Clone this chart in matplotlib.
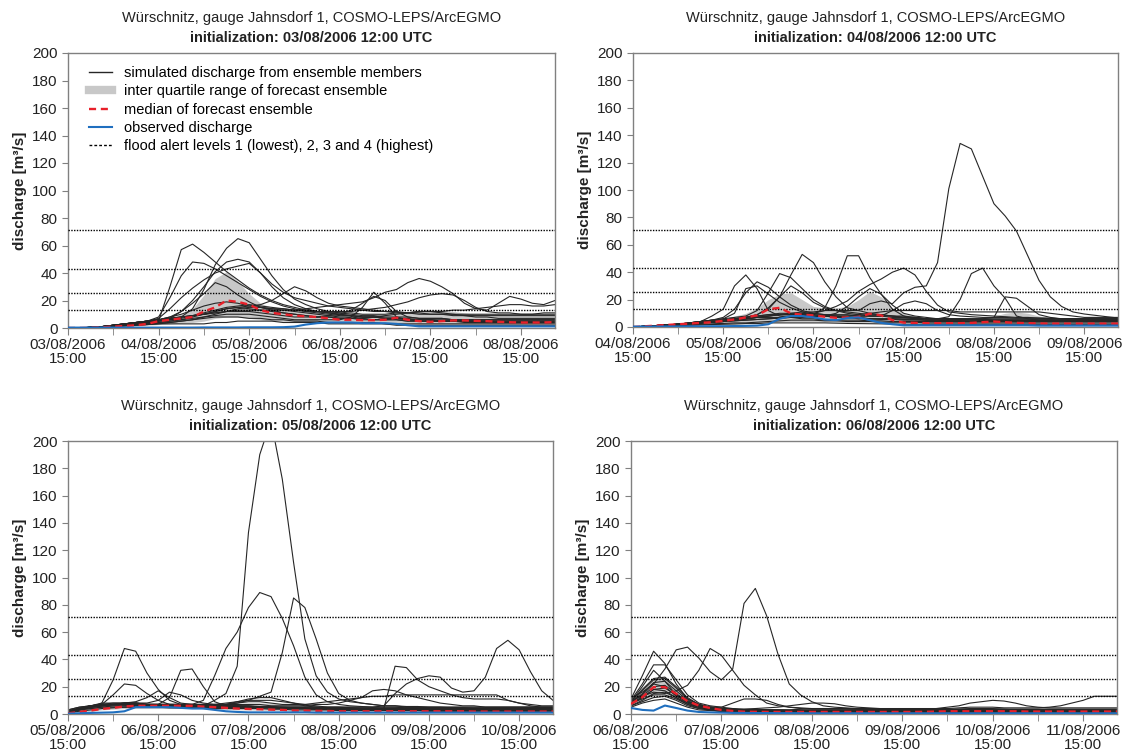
import numpy as np
import matplotlib
matplotlib.use("Agg")
import matplotlib.pyplot as plt
from matplotlib.lines import Line2D

plt.rcParams["font.family"] = ["Liberation Sans", "DejaVu Sans"]

# lead time in hours (3-hourly, 03/08 15:00 = lead 3h)
lead_hours = np.arange(3, 133, 3)

alert_levels = [13.4, 25.8, 43.0, 71.0]
start_days = [3, 4, 5, 6]

# ---------------- init 03/08/2006 ----------------
ens_0308 = [
    [0,0,0.5,1,2,3,3.5,4, 5,30,57,61,55,48,41,35, 29,24,20,17,15,13,12,11, 10,9,8,8,7,7,6,6, 6,5,5,5,5,5,4,4, 4,4,4,4],
    [0,0,0.5,1,2,3,4,5, 8,22,38,48,47,43,38,33, 28,23,19,16,14,12,11,10, 9,9,8,8,7,7,7,6, 6,6,6,5,5,5,5,5, 5,5,5,5],
    [0,0,0.5,1,1.5,2,3,4, 5,6,8,14,28,46,58,65, 62,50,38,28,21,17,14,12, 11,10,9,9,8,8,8,7, 7,7,6,6,6,6,6,6, 6,6,6,6],
    [0,0,0.5,1,1.5,2,3,4, 5,7,12,20,30,41,48,50, 48,40,32,26,22,20,18,16, 15,14,13,12,12,11,11,10, 10,10,9,9,9,9,9,9, 9,9,9,9],
    [0,0,0.5,1,2,3,4,5, 7,14,22,29,35,40,43,45, 47,40,30,22,17,14,12,11, 10,9,8,8,7,7,6,6, 6,5,5,5,5,5,5,5, 5,5,5,5],
    [0,0,0.5,1,2,3,4,5, 6,7,8,9,10,12,14,15, 16,17,20,25,30,27,22,18, 16,15,14,13,12,12,11,11, 10,10,10,10,10,10,10,10, 10,10,11,11],
    [0,0,0.5,1,2,3,4,5, 6,7,8,9,10,11,12,13, 13,13,13,13,13,14,15,16, 17,18,19,22,26,28,33,36, 34,30,25,18,14,13,18,23, 21,18,17,20],
    [0,0,0.5,1,1.5,2,3,3, 4,5,6,7,8,9,10,10, 10,9,8,7,6,6,6,6, 6,8,15,26,18,8,6,5, 5,5,5,5,5,4,4,4, 4,4,4,4],
    [0,0,0.5,1,2,3,4,5, 6,7,8,9,10,11,12,12, 12,11,10,9,8,8,8,9, 10,13,18,23,20,12,8,7, 7,7,6,6,6,6,6,6, 6,6,6,6],
    [0,0,0.5,1,2,3,4,5, 6,8,10,13,16,18,19,18, 16,15,14,14,13,13,12,12, 12,12,13,14,15,17,19,22, 24,25,24,20,15,12,11,11, 10,10,10,10],
    [0,0,0.5,1,1.5,2,3,4, 5,6,7,9,11,13,15,16, 17,16,15,14,13,12,12,11, 11,11,10,10,10,11,11,12, 12,12,13,13,14,15,16,17, 17,16,16,17],
    [0,0,0.5,1,1.5,2,2.5,3, 3.5,4,5,6,7,8,8,8, 7,7,6,6,5,5,5,4, 4,4,4,4,3,3,3,3, 3,3,3,3,3,3,3,3, 3,3,3,3],
    [0,0,0.3,0.6,1,1.5,2,2.5, 3,3,3,3,3,4,4,5, 5,5,5,4,4,4,4,3, 3,3,3,3,3,2,2,2, 2,2,2,2,2,2,2,2, 2,2,2,2],
    [0,0,0.5,1,2,2.5,3,3.5, 4,5,6,8,10,12,14,15, 14,13,12,11,10,9,8,8, 7,7,7,8,9,10,11,12, 12,11,10,9,8,8,7,7, 7,7,7,7],
    [0,0,0.4,0.8,1.2,1.6,2,2.5, 3,4,5,6,8,10,12,14, 15,15,14,13,12,11,10,9, 8,8,7,6,6,6,5,5, 5,5,5,4,4,4,4,4, 4,4,4,4],
    [0,0,0.5,1,2,3,4,5, 6,8,12,18,25,33,30,24, 19,15,13,11,10,9,8,8, 7,7,6,6,6,6,5,5, 5,5,5,5,5,5,5,5, 5,5,5,5],
]
med_0308 = [0,0,0.2,0.5,1,1.5,2,3, 5,6,7,8,12,15,20,19, 17,13,11,10,9,8.5,8,7, 6,6,5.7,5.7,6,7.5,6,5, 4.5,5,5.5,5.5,5.2,5,4.5,4.2, 4,4,4,4.3]
q25_0308 = [0,0,0,0.3,0.6,1,1.5,2, 2.5,3,3.5,4,5,7,8,8, 7,6,5,5,4.5,4,4,3.5, 3.5,3.5,3.5,3.5,3.5,3.5,3.5,3, 3,3,3,3,3,3,3,3, 3,3,3,3]
q75_0308 = [0,0,0.5,1,1.5,2.5,3.5,4.5, 6,8,10,14,24,36,41,34, 25,18,15,13,12,12,11.5,11, 10.5,10,10,10,10.5,11,12,13, 13.5,13,12,11,10,10,10,9.5, 9.5,9.5,9.5,9.5]
obs_0308 = [0.3,0.3,0.3,0.3,0.3,0.3,0.3,0.3, 0.3,0.3,0.3,0.3,0.4,0.4,0.4,0.4, 0.5,0.5,0.5,0.6,1,2.5,3.5,4, 4,4,3.5,3.5,3.5,3,2,1.2, 1.2,1.2,1.2,1.2,1.2,1.2,1.2,1.2, 1.2,1.2,1.2,1.2]

# ---------------- init 04/08/2006 ----------------
ens_0408 = [
    [0,0.5,1,1.5,2,2.5,3,3.5, 4,5,6,7,8,9,10,11, 11,12,12,12,12,17,19,17, 25,29,30,47,101,134,130,110, 90,81,70,52,34,22,15,11, 9.5,8.5,7.5,6.6],
    [0,0.5,1,1.5,2,2.5,3,4, 5,6,7,8,9,10,10,10, 10,9,9,9,8,8,8,8, 8,7,6,6,7.5,20,39,43, 30,21,8,6,5,5,4.5,4.5, 4.5,4.5,4.5,4.5],
    [0,0.5,1,1.5,2,2.5,3,4, 5,6,7,8,9,9,9,9, 8,8,7,7,7,6,6,6, 6,6,6,6,6,6,6,6, 7,22,21,15,9,7,6,6, 5.5,5.5,5.5,5.5],
    [0,0.5,1,1.5,2,2.5,3,4, 5,6,7,9,13,22,38,53, 47,33,22,14,12,10,9,8, 7,7,6,6,6,5.5,5.5,5, 5,5,5,5,5,5,5,5, 5,5,5,5],
    [0,0.5,1,1.5,2,3,4,5, 5,6,6,7,7,7,8,8, 9,14,30,52,52,36,24,13, 8,6,5,5,4.5,4.5,4,4, 4,4,4,4,4,4,4,4, 4,4,4,4],
    [0,0.5,1,1.5,2,3,4,8, 13,30,38,28,12,8,7,6, 6,5,5,5,5,4.5,4.5,4, 4,4,4,4,4,4,4,4, 4,4,4,4,4,4,4,4, 4,4,4,4],
    [0,0.5,1,1.5,2,3,4,5, 7,13,25,33,29,22,16,12, 10,9,8,7,7,6,6,6, 5.5,5.5,5,5,5,5,5,5, 5,5,5,5,5,5,5,5, 5,5,5,5],
    [0,0.5,1,1.5,2,3,4,5, 6,10,28,30,24,18,14,11, 9,8,7,7,6,6,5.5,5.5, 5,5,5,5,4.5,4.5,4.5,4.5, 4.5,4.5,4.5,4.5,4.5,4.5,4.5,4.5, 4.5,4.5,4.5,4.5],
    [0,0.5,1,1.5,2,3,4,5, 6,7,8,12,25,39,36,28, 20,15,12,10,9,8,8,7, 7,6,6,6,5.5,5.5,5.5,5.5, 5,5,5,5,5,5,5,5, 5,5,5,5],
    [0,0.5,1,1.5,2,3,3.5,4, 5,6,7,9,14,22,30,25, 18,14,12,11,10,9,9,8, 7,7,6,6,6,6,6,6, 6,6,6,6,6,6,6,6, 6,6,6,6],
    [0,0.5,1,1.5,2,2.5,3,3.5, 4,5,6,7,8,9,9,10, 10,12,15,19,26,31,35,40, 43,38,26,16,11,10,9,8.5, 8,7.5,7,7,6.5,6.5,6,6, 6,6,6,6],
    [0,0.5,1,1.5,2,2.5,3,3.5, 4,4.5,5,5.5,6,6.5,7,7, 7.5,8,10,15,22,28,24,16, 10,8,7,6,6,6,5.5,5.5, 5,5,5,5,5,5,5,5, 5,5,5,5],
    [0,0.5,1,1.5,2,2.5,3,3.5, 4,4.5,5,5.5,6,6.5,7,7.5, 8,8,8,8,9,10,11,12, 12,12,12,12,12,11,11,11, 11,11,11,11,11,10,9,8, 7,7,7,7],
    [0,0.3,0.6,1,1.3,1.6,2,2.3, 2.6,3,3,3.5,4,4.5,5,5, 5,4.5,4.5,4,4,4,3.5,3.5, 3.5,3.5,3,3,3,3,3,3, 3,3,3,3,3,3,3,3, 3,3,3,3],
    [0,0.3,0.5,0.8,1,1.2,1.5,1.8, 2,2.2,2.5,2.5,3,3,3,3, 3,3,2.8,2.6,2.5,2.4,2.3,2.2, 2,2,2,2,2,2,2,2, 2,2,2,2,2,2,2,2, 2,2,2,2],
    [0,0.5,1,1.5,2,2.5,3,3.5, 4,5,6,7,8,9,9,9, 9,8.5,8,8,8,8,8,12, 17,19,17,12,9,8,7.5,7, 7,7,6.5,6.5,6.5,6,6,6, 6,6,6,6],
]
med_0408 = [0,0.5,1,1.5,2,2.5,3,3.5, 4.5,5.5,7,8.5,13,14,10,9, 8.5,7.5,6.7,7,7.3,9.7,8.5,5, 3.2,3,2.8,2.8,2.8,2.8,3,3.5, 4,3.5,3,2.8,2.6,2.5,2.5,2.5, 2.5,2.5,2.5,2.5]
q25_0408 = [0,0.2,0.5,0.8,1,1.2,1.5,1.8, 2,2.2,2.5,3,3.5,4,4,4, 4,3.8,3.5,3.5,3.5,3.5,3.2,3, 2.5,2.2,2,2,2,2,2,2, 2,2,2,2,2,2,2,2, 2,2,2,2]
q75_0408 = [0.5,1,1.5,2,2.5,3,4,5, 6,8,10,14,20,24,25,20, 15,14,14,15,20,26,22,14, 10,8,7,6,6,6,6.5,7, 8,10,11,10,8,7,6.5,6, 6,6,5.5,5.5]
obs_0408 = [0.3,0.3,0.3,0.4,0.4,0.5,0.5,0.6, 0.6,0.7,0.8,1,2,6,8,8, 7,5.5,5,6.5,7,5,3,2, 1.2,1.2,1.2,1.2,1.2,1.2,1.2,1.2, 1.2,1.2,1.2,1.2,1,1,1,1, 1,1,1,1]

# ---------------- init 05/08/2006 ----------------
ens_0508 = [
    [2,4,5,6,7,7,7,7, 6,6,5,5,6,10,15,35, 133,190,215,172,111,55,28,16, 11,9,8,7,6,6,5,5, 5,5,4.5,4.5,4,4,4,4, 4,4,4,4],
    [2,4,5,6,7,8,8,7, 7,6,6,7,10,28,48,60, 78,89,86,70,50,27,14,9, 7,6,5.5,5,5,5,4.5,4.5, 4.5,4.5,4,4,4,4,4,4, 4,4,4,4],
    [2,3,5,6,7,8,8,7, 7,7,7,7,7,7,7,8, 10,13,16,45,85,78,55,30, 15,10,8,7,6,6,5.5,5.5, 5,5,5,5,5,5,5,5, 5,5,5,5],
    [1,3,5,8,25,48,46,30, 18,10,7,6,6,6,5,5, 5,5,4.5,4.5,4,4,4,4, 4,4,4,3.5,3.5,3.5,3.5,3.5, 3.5,3.5,3.5,3,3,3,3,3, 3,3,3,3],
    [1,3,5,7,14,22,21,15, 10,7,6,6,5,5,5,5, 5,4.5,4.5,4,4,4,3.5,3.5, 3.5,3.5,3.5,3,3,3,3,3, 3,3,3,3,3,3,3,3, 3,3,3,3],
    [2,4,6,7,7,7,6,6, 7,12,32,33,20,9,6,5, 5,5,5,4.5,4.5,4,4,4, 4,4,4,4,4,4,4,4, 4,4,4,4,4,4,4,4, 4,4,4,4],
    [2,4,6,7,8,8,8,8, 10,16,14,10,8,7,6,6, 6,5.5,5.5,5,5,5,5,5, 5,5,5,5,5,5,5,5, 5,5,5,5,5,5,5,5, 5,5,5,5],
    [3,5,6,7,7,7,7,7, 7,7,7,7,6,6,6,6, 5,5,5,5,4.5,4.5,4,4, 3.5,3.5,3,3,4,35,34,25, 20,17,14,12,11,11,11,10, 8,6,5,5],
    [2,4,6,8,8,8,8,7, 7,7,7,7,6,6,6,6, 6,5,5,5,5,5,5,5, 5,5,5,5,6,15,22,26, 28,27,19,16,17,27,48,54, 47,31,17,10],
    [2,4,6,7,7,7,7,7, 7,7,7,7,7,7,7,7, 7,7,6,6,6,6,7,7, 8,10,12,17,18,17,14,12, 10,8,7,6,6,5,5,5, 5,5,5,5],
    [2,4,5,6,6,6,6,6, 6,6,6,6,6,6,7,8, 9,9,8,7,7,7,8,9, 10,11,12,13,13,14,14,14, 14,14,14,14,14,14,14,10, 8,7,6,6],
    [2,4,5,6,7,7,6,6, 6,6,6,6,6,7,8,9, 10,10,10,9,8,7,6,5, 5,4.5,4,4,4,3.5,3.5,3.5, 3.5,3.5,3.5,3,3,3,3,3, 3,3,3,3],
    [1,3,4,5,5,5,5,5, 5,5,5,5,5,5,5,5, 5,5,5,4.5,4,4,3.5,3.5, 3,3,3,3,3,2.5,2.5,2.5, 2.5,2.5,2.5,2.5,2.5,2.5,2.5,2.5, 2.5,2.5,2.5,2.5],
    [3,5,6,7,7,8,9,12, 17,12,8,7,6,6,7,9, 11,12,12,10,8,6,5,4.5, 4,4,4,4,4,4,4,4, 4,4,4,4,4,4,4,4, 4,4,4,4],
    [1,2,3,4,4.5,5,5,5, 5,4.5,4.5,4.5,4,4,4,4, 4,4,3.5,3.5,3,3,3,3, 2.5,2.5,2.5,2.5,2.5,2.5,2.5,2.5, 2,2,2,2,2,2,2,2, 2,2,2,2],
    [2,3,4,5,6,6,6,6, 5.5,5.5,5.5,5.5,5,5,5,5, 4.5,4.5,4.5,4,4,4,4,3.5, 3.5,3.5,3.5,3.5,3.5,3.5,3,3, 3,3,3,3,3,3,3,3, 3,3,3,3],
]
med_0508 = [0.5,1.5,2.5,3.7,4.5,5.5,6,6, 6,6,6,6,5.4,5,4.5,4, 3.7,3.5,3.2,3,2.5,2.5,2.3,2.2, 2,2,2,2,2,2,2,2, 2,2,2,2,1.8,1.8,1.8,1.8, 1.8,1.8,1.8,1.8]
q25_0508 = [0.3,1,2,3,3.5,4,4,4, 4,4,4,4,4,3.5,3.5,3, 3,2.8,2.6,2.5,2,2,1.8,1.8, 1.5,1.5,1.5,1.5,1.5,1.5,1.5,1.5, 1.5,1.5,1.5,1.5,1.2,1.2,1.2,1.2, 1.2,1.2,1.2,1.2]
q75_0508 = [1,2.5,4,5.5,7,9,9,8.5, 8,8,8,8,8,7.5,7,7.5, 8,8,8,7.5,7,6.5,6,5.5, 5,5,5,5,4.5,5,5,5, 5,5,5,5,4.5,4.5,4.5,4.5, 4.5,4.5,4.5,4.5]
obs_0508 = [0.3,0.5,0.8,1,1.2,2,5,5, 5,5,4.5,4,4,3,2,1.5, 1.2,1.2,1.2,1.2,1.2,1.2,1,1, 1,1,1,1,1,1,1,1, 1,1,1,1,1,1,1,1, 1,1,1,1]

# ---------------- init 06/08/2006 ----------------
ens_0608 = [
    [12,16,22,33,47,49,41,31, 25,33,81,92,72,44,22,14, 9,6,5,4.5,4,4,4,3.5, 3.5,3.5,3.5,3,3,3,3,3, 3,3,3,3,3,3,3,3, 3,3,3,3],
    [10,13,16,15,17,21,32,48, 43,32,21,14,8,6,5,4.5, 4,4,4,4,4,4,3.5,3.5, 3.5,3.5,3.5,3.5,3.5,3.5,3.5,3.5, 3.5,3.5,3.5,3.5,3.5,3.5,3.5,3.5, 3.5,3.5,3.5,3.5],
    [11,28,46,37,22,11,7,5, 4,3.5,3,3,3,3,2.5,2.5, 2.5,2.5,2.5,2.5,2.5,2.5,2.5,2.5, 2.5,2.5,2.5,2.5,2.5,2.5,2.5,2.5, 2.5,2.5,2.5,2.5,2.5,2.5,2.5,2.5, 2.5,2.5,2.5,2.5],
    [10,22,36,36,25,14,8,6, 5,4,3.5,3.5,3,3,3,3, 3,3,3,3,3,3,3,3, 3,3,3,3,3,3,3,3, 3,3,3,3,3,3,3,3, 3,3,3,3],
    [9,20,32,24,14,9,6,5, 4,3.5,3,3,3,2.5,2.5,2.5, 2.5,2.5,2.5,2.5,2.5,2.5,2.5,2.5, 2.5,2.5,2.5,2.5,2.5,2.5,2.5,2.5, 2.5,2.5,2.5,2.5,2.5,2.5,2.5,2.5, 2.5,2.5,2.5,2.5],
    [9,14,22,20,13,9,6,5, 5,8,11,11,10,7,5,4, 3.5,3.5,3.5,3.5,3.5,3.5,3.5,3.5, 3.5,3.5,3.5,3.5,3.5,3.5,3.5,3.5, 3.5,3.5,3.5,3.5,3.5,3.5,3.5,3.5, 3.5,3.5,3.5,3.5],
    [9,18,26,27,20,12,7,5, 4,3.5,3,3,2.5,2.5,2.5,2.5, 2.5,2.5,2.5,2.5,2.5,2.5,2.5,2.5, 2.5,2.5,2.5,2.5,2.5,2.5,2.5,2.5, 2.5,2.5,2.5,2.5,2.5,2.5,2.5,2.5, 2.5,2.5,2.5,2.5],
    [8,17,25,26,19,11,7,5, 4,3,3,2.5,2.5,2,2,2, 2,2,2,2,2,2,2,2, 2,2,2,2,2,2,2,2, 2,2,2,2,2,2,2,2, 2,2,2,2],
    [8,15,23,24,17,10,6,4, 3,2.5,2.5,2,2,2,2,2, 2,2,2,2,2,2,2,2, 2,2,2,2,2,2,2,2, 2,2,2,2,2,2,2,2, 2,2,2,2],
    [7,13,20,21,15,9,5,3.5, 2.5,2,2,2,1.8,1.8,1.8,1.8, 1.8,1.8,1.8,1.8,1.8,1.8,1.8,1.8, 1.8,1.8,1.8,1.8,1.8,1.8,1.8,1.8, 1.8,1.8,1.8,1.8,1.8,1.8,1.8,1.8, 1.8,1.8,1.8,1.8],
    [7,12,18,19,14,8,5,3, 2.5,2,2,1.8,1.8,1.5,1.5,1.5, 1.5,1.5,1.5,1.5,1.5,1.5,1.5,1.5, 1.5,1.5,1.5,1.5,1.5,1.5,1.5,1.5, 1.5,1.5,1.5,1.5,1.5,1.5,1.5,1.5, 1.5,1.5,1.5,1.5],
    [6,10,15,16,12,7,4,3, 2,2,1.8,1.8,1.5,1.5,1.5,1.5, 1.5,1.5,1.5,1.5,1.5,1.5,1.5,1.5, 1.5,1.5,1.5,1.5,1.5,1.5,1.5,1.5, 1.5,1.5,1.5,1.5,1.5,1.5,1.5,1.5, 1.5,1.5,1.5,1.5],
    [6,9,12,13,10,6,4,3, 2,2,2,1.8,1.8,1.8,1.8,1.8, 1.8,1.8,1.8,1.8,1.8,1.8,1.8,1.8, 1.8,2,2,2.5,3,3.5,4,4, 4,3.5,3,2.5,2.5,2.5,2.5,2.5, 2.5,2.5,2.5,2.5],
    [5,8,10,11,8,5,3,2.5, 2,1.8,1.8,1.5,1.5,1.5,1.5,1.5, 1.5,1.5,1.5,1.5,1.5,1.5,1.5,1.5, 1.5,1.5,1.5,1.5,1.5,1.5,1.5,1.5, 1.5,1.5,1.5,1.5,1.5,1.5,1.5,1.5, 1.5,1.5,1.5,1.5],
    [8,12,18,17,12,8,5,4, 3.5,3,3,3,3,3,3,3.5, 4,4,4,4,3.5,3.5,3.5,3.5, 3.5,3.5,3.5,4,4,4.5,5,5, 5,4.5,4.5,4.5,4.5,5,6,8, 10,13,13,13],
    [8,11,14,14,11,7,5,4, 3.5,3.5,3.5,4,4.5,5,6,7, 8,8,7.5,6,5,4.5,4,4, 4,4,4,4,5,6,8,9, 10,9.5,8,6,5,4.5,4.5,4.5, 4.5,4.5,4.5,4.5],
]
med_0608 = [7.4,12.3,19.7,19.7,14.8,9.4,6.2,4.4, 3,2.2,1.7,1.6,1.5,1.5,1.5,1.5, 1.5,1.5,1.5,1.5,1.5,1.5,1.5,1.5, 1.5,1.5,1.6,1.8,2,2,2,2, 2,2,2,1.8,1.8,1.8,1.8,1.8, 1.8,1.8,1.8,1.8]
q25_0608 = [6,9,14,15,11,7,4.5,3, 2,1.8,1.5,1.5,1.3,1.3,1.3,1.3, 1.3,1.3,1.3,1.3,1.3,1.3,1.3,1.3, 1.3,1.3,1.3,1.3,1.3,1.3,1.3,1.3, 1.3,1.3,1.3,1.3,1.3,1.3,1.3,1.3, 1.3,1.3,1.3,1.3]
q75_0608 = [10,16,25,26,19,12,7,5, 4,3.5,3,3,3,3,3,3, 3,3,3,3,3,3,3,3, 3,3,3,3,3,3,3.5,3.5, 3.5,3.5,3.5,3,3,3,3,3, 3,3,3,3]
obs_0608 = [4.4,3,2.5,6.2,4.4,2.5,1.5,1.2, 1,0.8,0.8,0.7,0.7,0.6,0.6,0.6, 0.5,0.5,0.5,0.5,0.5,0.5,0.5,0.5, 0.5,0.5,0.5,0.5,0.5,0.5,0.5,0.5, 0.5,0.5,0.5,0.5,0.5,0.5,0.5,0.5, 0.5,0.5,0.5,0.5]

panels = [
    (ens_0308, med_0308, q25_0308, q75_0308, obs_0308),
    (ens_0408, med_0408, q25_0408, q75_0408, obs_0408),
    (ens_0508, med_0508, q25_0508, q75_0508, obs_0508),
    (ens_0608, med_0608, q25_0608, q75_0608, obs_0608),
]

# axes rectangles in pixels of the 1128x751 reference
W, H = 1128, 751
rects_px = [(68, 53, 555, 328), (633, 53, 1118, 327),
            (68, 441, 553, 714), (631, 441, 1117, 714)]

ens_col = "#262626"
iqr_col = "#c8c8c8"
med_col = "#e8202a"
obs_col = "#1f6fbf"
spine_col = "#808080"

fig = plt.figure(figsize=(W / 100, H / 100), dpi=100)

for k, (ens, med, q25, q75, obs) in enumerate(panels):
    x0, y0, x1, y1 = rects_px[k]
    ax = fig.add_axes([x0 / W, 1 - y1 / H, (x1 - x0) / W, (y1 - y0) / H])

    ax.fill_between(lead_hours, q25, q75, color=iqr_col, lw=0, zorder=1)
    for m in ens:
        ax.plot(lead_hours, m, color=ens_col, lw=0.8, zorder=2)
    for lev in alert_levels:
        ax.axhline(lev, color="black", lw=1.0, ls=(0, (1, 1)), zorder=3)
    ax.plot(lead_hours, med, color=med_col, lw=1.7, ls=(0, (3, 2)), zorder=4)
    ax.plot(lead_hours, obs, color=obs_col, lw=1.5, zorder=5)

    ax.set_xlim(3, 132)
    ax.set_ylim(0, 200)
    ax.set_yticks(np.arange(0, 201, 20))

    d = start_days[k]
    ax.set_xticks(np.arange(3, 133, 24))
    ax.set_xticks(np.arange(15, 133, 24), minor=True)
    ax.set_xticklabels(["%02d/08/2006\n15:00" % (d + j) for j in range(6)],
                       fontsize=11, color="#222222", linespacing=1.0)
    ax.tick_params(axis="y", labelsize=11, labelcolor="#222222",
                   length=4, color=spine_col, direction="out")
    ax.tick_params(axis="x", which="both", length=5, color=spine_col,
                   direction="out", pad=2)
    for sp in ax.spines.values():
        sp.set_color(spine_col)
        sp.set_linewidth(1.0)

    ax.set_ylabel("discharge [m\u00b3/s]", fontsize=11, fontweight="bold",
                  color="#222222")

    ax.text(0.5, 1.127, "Würschnitz, gauge Jahnsdorf 1, COSMO-LEPS/ArcEGMO",
            transform=ax.transAxes, ha="center", va="center", fontsize=10.5,
            color="#222222")
    ax.text(0.5, 1.055, "initialization: %02d/08/2006 12:00 UTC" % d,
            transform=ax.transAxes, ha="center", va="center", fontsize=10.5,
            fontweight="bold", color="#222222")

    if k == 0:
        handles = [
            Line2D([], [], color=ens_col, lw=1.0),
            Line2D([], [], color=iqr_col, lw=6),
            Line2D([], [], color=med_col, lw=1.7, ls=(0, (3, 2))),
            Line2D([], [], color=obs_col, lw=1.5),
            Line2D([], [], color="black", lw=1.0, ls=(0, (2, 1.5))),
        ]
        labels = [
            "simulated discharge from ensemble members",
            "inter quartile range of forecast ensemble",
            "median of forecast ensemble",
            "observed discharge",
            "flood alert levels 1 (lowest), 2, 3 and 4 (highest)",
        ]
        ax.legend(handles, labels, loc="upper left", bbox_to_anchor=(0.025, 0.985),
                  frameon=False, fontsize=10.5, handlelength=1.6,
                  labelspacing=0.3, handletextpad=0.8, borderaxespad=0.2)

fig.savefig("out.png", dpi=100)
